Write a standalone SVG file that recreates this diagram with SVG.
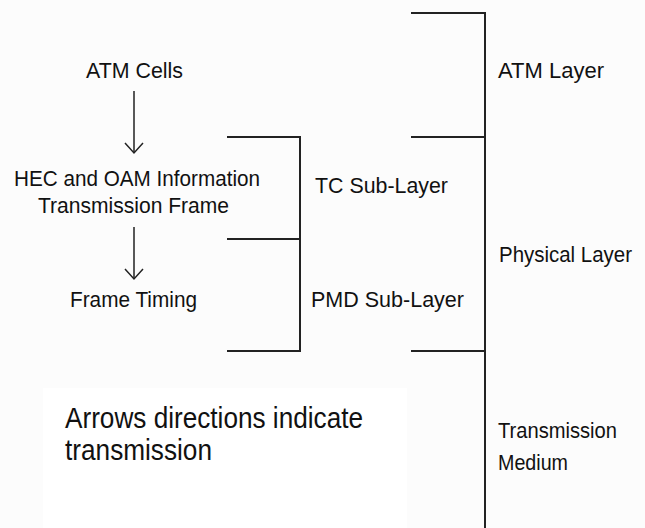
<svg xmlns="http://www.w3.org/2000/svg" width="645" height="528" viewBox="0 0 645 528">
<style>
.lbl{font-family:"Liberation Sans",Arial,sans-serif;font-size:22px;fill:#111;}
.big{font-family:"Liberation Sans",Arial,sans-serif;font-size:29px;fill:#111;}
.ln{stroke:#222;stroke-width:2;fill:none;}
.ar{stroke:#222;stroke-width:1.5;fill:none;}
</style>
<rect x="0" y="0" width="645" height="528" fill="#fcfcfc"/>
<rect x="43" y="388" width="364" height="140" fill="#ffffff"/>
<g id="connectors">
  <line class="ar" x1="134" y1="91" x2="134" y2="153"/>
  <polyline class="ar" points="125,143 134,153 143,143"/>
  <line class="ar" x1="134" y1="227" x2="134" y2="279"/>
  <polyline class="ar" points="125,269 134,279 143,269"/>
</g>
<g id="sublayer-bracket">
  <polyline class="ln" points="227,137 300,137 300,351 227,351"/>
  <line class="ln" x1="227" y1="239" x2="300" y2="239"/>
</g>
<g id="layer-bracket">
  <polyline class="ln" points="411,13 485,13 485,528"/>
  <line class="ln" x1="411" y1="137" x2="485" y2="137"/>
  <line class="ln" x1="411" y1="351" x2="485" y2="351"/>
</g>
<g id="atm-cells"><text class="lbl" x="86" y="78" textLength="97" lengthAdjust="spacingAndGlyphs">ATM Cells</text></g>
<g id="hec-oam"><text class="lbl" x="14" y="186" textLength="246" lengthAdjust="spacingAndGlyphs">HEC and OAM Information</text>
<text class="lbl" x="38" y="213" textLength="191" lengthAdjust="spacingAndGlyphs">Transmission Frame</text></g>
<g id="frame-timing"><text class="lbl" x="70" y="307" textLength="127" lengthAdjust="spacingAndGlyphs">Frame Timing</text></g>
<g id="tc-sublayer"><text class="lbl" x="315" y="193" textLength="133" lengthAdjust="spacingAndGlyphs">TC Sub-Layer</text></g>
<g id="pmd-sublayer"><text class="lbl" x="311" y="307" textLength="153" lengthAdjust="spacingAndGlyphs">PMD Sub-Layer</text></g>
<g id="atm-layer"><text class="lbl" x="498" y="78" textLength="106" lengthAdjust="spacingAndGlyphs">ATM Layer</text></g>
<g id="physical-layer"><text class="lbl" x="499" y="262" textLength="133" lengthAdjust="spacingAndGlyphs">Physical Layer</text></g>
<g id="transmission-medium"><text class="lbl" x="498" y="438" textLength="119" lengthAdjust="spacingAndGlyphs">Transmission</text>
<text class="lbl" x="498" y="470" textLength="70" lengthAdjust="spacingAndGlyphs">Medium</text></g>
<g id="note"><text class="big" x="65" y="428" textLength="298" lengthAdjust="spacingAndGlyphs">Arrows directions indicate</text>
<text class="big" x="65" y="460" textLength="147" lengthAdjust="spacingAndGlyphs">transmission</text></g>
</svg>
